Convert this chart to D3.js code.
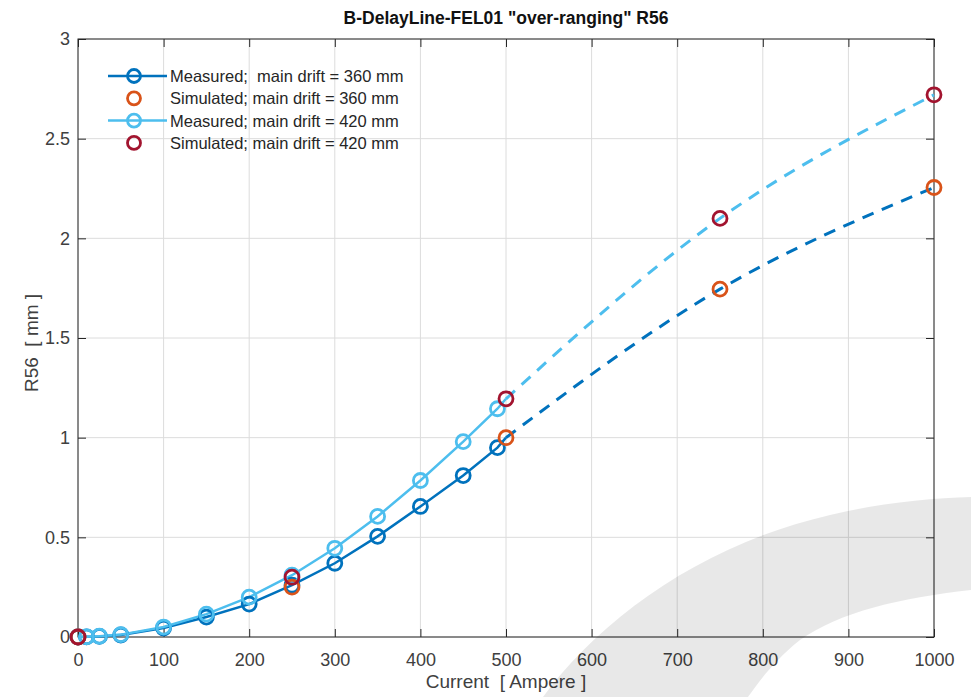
<!DOCTYPE html>
<html>
<head>
<meta charset="utf-8">
<script src="https://cdn.jsdelivr.net/npm/d3@7"></script>
<style>
  body { margin: 0; background: #fff; }
  svg { font-family: "Liberation Sans", Arial, sans-serif; }
  text { white-space: pre; }
</style>
</head>
<body>
<div id="chart"></div>
<script>
// -- DATA -- //
const measCurrent = [0, 10, 25, 50, 100, 150, 200, 250, 300, 350, 400, 450, 490];
const meas360 = [0, 0.001, 0.003, 0.01, 0.045, 0.1, 0.165, 0.26, 0.37, 0.505, 0.655, 0.81, 0.95];
const meas420 = [0, 0.001, 0.004, 0.012, 0.05, 0.115, 0.2, 0.31, 0.445, 0.605, 0.785, 0.98, 1.145];

const simCurrent = [0, 250, 500, 750, 1000];
const sim360 = [0, 0.25, 1.0, 1.745, 2.255];
const sim420 = [0, 0.30, 1.195, 2.10, 2.72];

const xTicks = [0, 100, 200, 300, 400, 500, 600, 700, 800, 900, 1000];
const yTicks = [0, 0.5, 1, 1.5, 2, 2.5, 3];

const legendLabels = [
  "Measured;  main drift = 360 mm",
  "Simulated; main drift = 360 mm",
  "Measured; main drift = 420 mm",
  "Simulated; main drift = 420 mm",
];

const colDark = "#0072BD", colLight = "#4DBEEE", colOrange = "#D95319", colRed = "#A2142F";

// -- LAYOUT -- //
const W = 971, H = 697;
const margin = { left: 78, top: 39, right: 37, bottom: 60 };
const pw = W - margin.left - margin.right;
const ph = H - margin.top - margin.bottom;

const svg = d3.select("#chart").append("svg").attr("width", W).attr("height", H);
const g = svg.append("g").attr("transform", `translate(${margin.left},${margin.top})`);

const x = d3.scaleLinear().domain([0, 1000]).range([0, pw]);
const y = d3.scaleLinear().domain([0, 3]).range([ph, 0]);

// grid
g.append("g").selectAll("line").data(xTicks).join("line")
  .attr("x1", d => x(d)).attr("x2", d => x(d)).attr("y1", 0).attr("y2", ph)
  .attr("stroke", "#dcdcdc").attr("stroke-width", 1);
g.append("g").selectAll("line").data(yTicks).join("line")
  .attr("y1", d => y(d)).attr("y2", d => y(d)).attr("x1", 0).attr("x2", pw)
  .attr("stroke", "#dcdcdc").attr("stroke-width", 1);

// axes (ticks pointing inward, box on)
function styleAxis(sel) {
  sel.select(".domain").remove();
  sel.selectAll(".tick line").attr("stroke", "#262626");
  sel.selectAll(".tick text").attr("fill", "#404040").style("font-size", "18px");
}
g.append("g").attr("transform", `translate(0,${ph})`)
  .call(d3.axisBottom(x).tickValues(xTicks).tickSize(-8).tickPadding(16).tickFormat(d3.format("d")))
  .call(styleAxis);
g.append("g")
  .call(d3.axisLeft(y).tickValues(yTicks).tickSize(-8).tickPadding(8).tickFormat(d => d))
  .call(styleAxis);
g.append("g").attr("transform", `translate(${pw},0)`)
  .call(d3.axisRight(y).tickValues(yTicks).tickSize(-8).tickFormat(""))
  .call(styleAxis);
g.append("g")
  .call(d3.axisTop(x).tickValues(xTicks).tickSize(-8).tickFormat(""))
  .call(styleAxis);
g.append("rect").attr("width", pw).attr("height", ph)
  .attr("fill", "none").attr("stroke", "#262626").attr("stroke-width", 1);

// lines
const line = d3.line().x(d => x(d[0])).y(d => y(d[1]));
const curve = d3.line().x(d => x(d[0])).y(d => y(d[1])).curve(d3.curveNatural);

const m360 = measCurrent.map((c, i) => [c, meas360[i]]);
const m420 = measCurrent.map((c, i) => [c, meas420[i]]);
const s360 = simCurrent.map((c, i) => [c, sim360[i]]);
const s420 = simCurrent.map((c, i) => [c, sim420[i]]);

// dashed extrapolation through simulated points from 500 A on
g.append("path").attr("d", curve(s360.filter(d => d[0] >= 500)))
  .attr("fill", "none").attr("stroke", colDark).attr("stroke-width", 3).attr("stroke-dasharray", "12,9");
g.append("path").attr("d", curve(s420.filter(d => d[0] >= 500)))
  .attr("fill", "none").attr("stroke", colLight).attr("stroke-width", 3).attr("stroke-dasharray", "12,9");

// solid measured lines (joined to the 500 A simulated point)
g.append("path").attr("d", line(m360.concat([s360[2]])))
  .attr("fill", "none").attr("stroke", colDark).attr("stroke-width", 2.5);
g.append("path").attr("d", line(m420.concat([s420[2]])))
  .attr("fill", "none").attr("stroke", colLight).attr("stroke-width", 2.5);

function markers(data, color) {
  g.append("g").selectAll("circle").data(data).join("circle")
    .attr("cx", d => x(d[0])).attr("cy", d => y(d[1])).attr("r", 7)
    .attr("fill", "none").attr("stroke", color).attr("stroke-width", 2.8);
}
markers(m360, colDark);
markers(m420, colLight);
markers(s360, colOrange);
markers(s420, colRed);

// legend
const legendColors = [colDark, colOrange, colLight, colRed];
const legendHasLine = [true, false, true, false];
const leg = svg.append("g").attr("transform", "translate(108,76)");
legendLabels.forEach((lab, i) => {
  const row = leg.append("g").attr("transform", `translate(0,${i * 22.3})`);
  if (legendHasLine[i]) {
    row.append("line").attr("x1", 0).attr("x2", 59).attr("y1", 0).attr("y2", 0)
      .attr("stroke", legendColors[i]).attr("stroke-width", 2.5);
  }
  row.append("circle").attr("cx", 26).attr("cy", 0).attr("r", 6.5)
    .attr("fill", "none").attr("stroke", legendColors[i]).attr("stroke-width", 2.8);
  row.append("text").attr("x", 62).attr("y", 6).attr("fill", "#262626")
    .style("font-size", "16.5px").text(lab);
});

// titles
svg.append("text").attr("x", margin.left + pw / 2).attr("y", 24).attr("text-anchor", "middle")
  .style("font-size", "17.5px").style("font-weight", "bold").attr("fill", "#111")
  .text('B-DelayLine-FEL01 "over-ranging" R56');
svg.append("text").attr("x", margin.left + pw / 2).attr("y", 688).attr("text-anchor", "middle")
  .style("font-size", "19px").attr("fill", "#404040").text("Current  [ Ampere ]");
svg.append("text").attr("transform", `translate(38,${margin.top + ph / 2 + 5}) rotate(-90)`)
  .attr("text-anchor", "middle").style("font-size", "19px").attr("fill", "#404040").text("R56  [ mm ]");

// watermark swoosh in the lower right corner
svg.append("path")
  .attr("d", "M543,697 C600,620 700,545 830,515 C880,503 930,498 971,497 L971,590 C900,598 840,612 800,640 C775,660 760,680 748,697 Z")
  .attr("fill", "#000").attr("fill-opacity", 0.09);
</script>
</body>
</html>
